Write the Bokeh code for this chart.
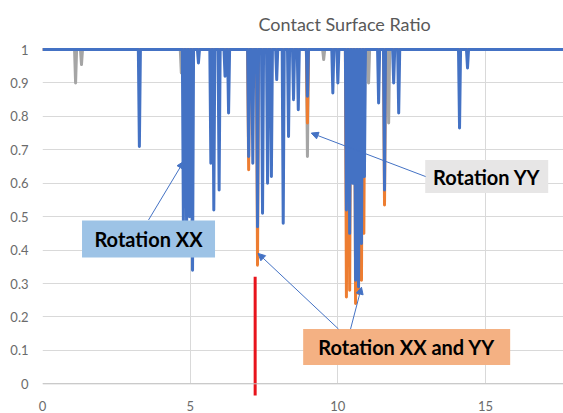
from bokeh.plotting import figure
from bokeh.models import FixedTicker, Span, Arrow, NormalHead, Range1d
from bokeh.core.properties import value
from bokeh.embed import file_html
from bokeh.resources import INLINE

# ---------------- data ----------------
title_text = "Contact Surface Ratio"
x_ticks = [0, 5, 10, 15]
y_ticks = [0, 0.1, 0.2, 0.3, 0.4, 0.5, 0.6, 0.7, 0.8, 0.9, 1]
y_tick_labels = ["0", "0.1", "0.2", "0.3", "0.4", "0.5", "0.6", "0.7", "0.8", "0.9", "1"]

baseline_value = 1.0

# Rotation XX (blue): dip positions and minimum ratio
blue_dip_x = [3.28, 4.77, 4.88, 4.98, 5.08, 5.28, 5.70, 5.80, 5.98, 6.18, 6.30,
              6.98, 7.12, 7.28, 7.45, 7.62, 7.75, 7.93, 8.15, 8.33, 8.50, 8.66,
              8.97, 9.83, 10.00, 10.29, 10.40, 10.50, 10.60, 10.70, 10.80, 10.90,
              11.38, 11.58, 11.89, 12.06, 14.12, 14.39]
blue_dip_min = [0.71, 0.48, 0.45, 0.50, 0.34, 0.96, 0.66, 0.52, 0.58, 0.92, 0.81,
                0.68, 0.66, 0.47, 0.51, 0.60, 0.62, 0.91, 0.48, 0.74, 0.85, 0.82,
                0.86, 0.87, 0.90, 0.52, 0.45, 0.60, 0.31, 0.29, 0.42, 0.62,
                0.84, 0.58, 0.90, 0.81, 0.765, 0.945]

# Rotation XX and YY (orange)
orange_dip_x = [6.98, 7.28, 8.97, 10.29, 10.40, 10.60, 10.70, 10.80, 10.88, 11.58]
orange_dip_min = [0.64, 0.355, 0.78, 0.26, 0.28, 0.24, 0.27, 0.31, 0.45, 0.535]

# Rotation YY (grey)
grey_dip_x = [1.12, 1.32, 4.70, 8.97, 9.52, 11.04, 11.72]
grey_dip_min = [0.90, 0.955, 0.93, 0.68, 0.97, 0.90, 0.78]

# red marker
red_x = [7.2, 7.2]
red_y = [-0.04, 0.32]

# ---------------- layout ----------------
X_START, X_END = 0, 17.64
Y_START, Y_END = -0.035, 1.012
HALF = 0.035


def build(dx, dm):
    xs, ys = [X_START], [baseline_value]
    for cx, m in sorted(zip(dx, dm)):
        xs += [cx - HALF, cx, cx + HALF]
        ys += [baseline_value, m, baseline_value]
    xs.append(X_END)
    ys.append(baseline_value)
    return xs, ys


p = figure(width=563, height=413, output_backend="svg", toolbar_location=None,
           x_range=Range1d(X_START, X_END), y_range=Range1d(Y_START, Y_END),
           min_border_left=42, min_border_right=0, min_border_top=45,
           min_border_bottom=16)
p.outline_line_color = None
p.background_fill_color = "white"

FONT = "Lato"
LABEL_COLOR = "#6b6b6b"

p.title.text = title_text
p.title.text_font = FONT
p.title.text_font_size = "18px"
p.title.text_font_style = "normal"
p.title.text_color = "#595959"
p.title.align = "left"
p.title.offset = 216
p.title.standoff = 21

# axes
p.xaxis.ticker = FixedTicker(ticks=x_ticks)
p.yaxis.ticker = FixedTicker(ticks=y_ticks)
p.yaxis.major_label_overrides = {t: l for t, l in zip(y_ticks, y_tick_labels)}
for ax in (p.xaxis[0], p.yaxis[0]):
    ax.axis_line_color = None
    ax.major_tick_line_color = None
    ax.minor_tick_line_color = None
    ax.major_label_text_font = FONT
    ax.major_label_text_font_size = "13px"
    ax.major_label_text_color = LABEL_COLOR
p.yaxis.major_label_standoff = 8
p.xaxis.major_label_standoff = -1

p.xgrid.grid_line_color = "#d9d9d9"
p.ygrid.grid_line_color = "#d9d9d9"
try:
    p.xgrid.cross_bounds = (0, 1)
except Exception:
    pass

p.add_layout(Span(location=0, dimension="width", line_color="#c4c4c4", line_width=1))

# series: grey under orange under blue
gx, gy = build(grey_dip_x, grey_dip_min)
ox, oy = build(orange_dip_x, orange_dip_min)
bx, by = build(blue_dip_x, blue_dip_min)
p.line(gx, gy, line_color="#a5a5a5", line_width=3, line_join="round")
p.line(ox, oy, line_color="#ed7d31", line_width=3, line_join="round")
p.line(bx, by, line_color="#4472c4", line_width=3, line_join="round")

p.line(red_x, red_y, line_color="#e8141c", line_width=3)

# callouts
notes = [
    ("Rotation XX", 3.59, 0.433, 133, 37, "#9dc3e6"),
    ("Rotation YY", 15.04, 0.62, 123, 33, "#e7e6e6"),
    ("Rotation XX and YY", 12.33, 0.11, 207, 36, "#f4b183"),
]
arrows = [
    (3.59, 0.49, 4.78, 0.665),
    (12.97, 0.62, 9.10, 0.75),
    (10.02, 0.164, 7.30, 0.39),
    (10.43, 0.164, 10.80, 0.289),
]
for x0, y0, x1, y1 in arrows:
    p.add_layout(Arrow(x_start=x0, y_start=y0, x_end=x1, y_end=y1,
                       line_color="#4472c4", line_width=1,
                       end=NormalHead(size=7, fill_color="#4472c4", line_color="#4472c4")))

p.rect(x=[n[1] for n in notes], y=[n[2] for n in notes],
       width=[n[3] for n in notes], height=[n[4] for n in notes],
       width_units="screen", height_units="screen",
       fill_color=[n[5] for n in notes], line_color=None)
p.text(x=[n[1] for n in notes], y=[n[2] for n in notes], text=[n[0] for n in notes],
       text_font=value(FONT), text_font_style="bold", text_font_size="20px",
       text_align="center", text_baseline="middle", text_color="black")

open("out.html", "w").write(file_html(p, INLINE))
